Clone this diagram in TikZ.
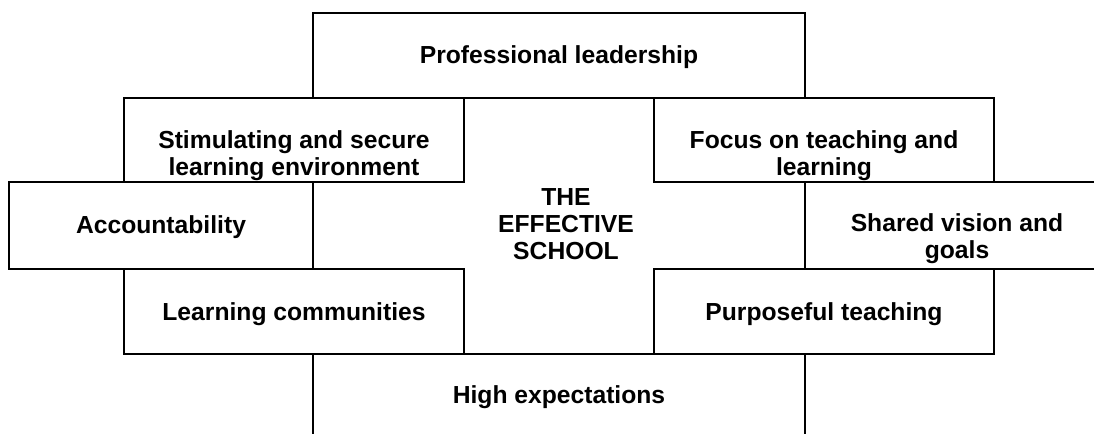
\documentclass[tikz,border=0pt]{standalone}
\usepackage{fontspec}
\setmainfont{Liberation Sans}
\usetikzlibrary{fit}
\tikzset{
  box/.style={draw=black, line width=1.6pt, inner sep=0pt},
  txt/.style={align=center, inner sep=0pt, font=\bfseries\fontsize{18.5pt}{20pt}\selectfont}
}
\begin{document}
\begin{tikzpicture}[x=0.75pt,y=-0.75pt]
\path[use as bounding box] (0,0) rectangle (1094,433);
\clip (0,0) rectangle (1094,433);
% rows: 13, 98, 182, 269, 354, 439
\node[box, fit={(313,13) (805,98)}] (lead) {};
\node[box, fit={(124,98) (464,182)}] (stim) {};
\node[box, fit={(654,98) (994,182)}] (focus) {};
\node[box, fit={(9,182) (313,269)}] (acc) {};
\node[box, fit={(805,182) (1109,269)}] (vision) {};
\node[box, fit={(124,269) (464,354)}] (comm) {};
\node[box, fit={(654,269) (994,354)}] (purp) {};
\node[box, fit={(313,354) (805,439)}] (high) {};
\node[txt] (leadtxt) at (559,57) {Professional leadership};
\node[txt] (stimtxt) at (294,156) {Stimulating and secure\\learning environment};
\node[txt] (focustxt) at (824,156) {Focus on teaching and\\learning};
\node[txt] (acctxt) at (161,227) {Accountability};
\node[txt] (visiontxt) at (957,239) {Shared vision and\\goals};
\node[txt] (commtxt) at (294,314) {Learning communities};
\node[txt] (purptxt) at (824,314) {Purposeful teaching};
\node[txt] (hightxt) at (559,397) {High expectations};
\node[txt, font=\bfseries\fontsize{18.5pt}{20.25pt}\selectfont] (school) at (566,224) {THE\\EFFECTIVE\\SCHOOL};
\end{tikzpicture}
\end{document}
